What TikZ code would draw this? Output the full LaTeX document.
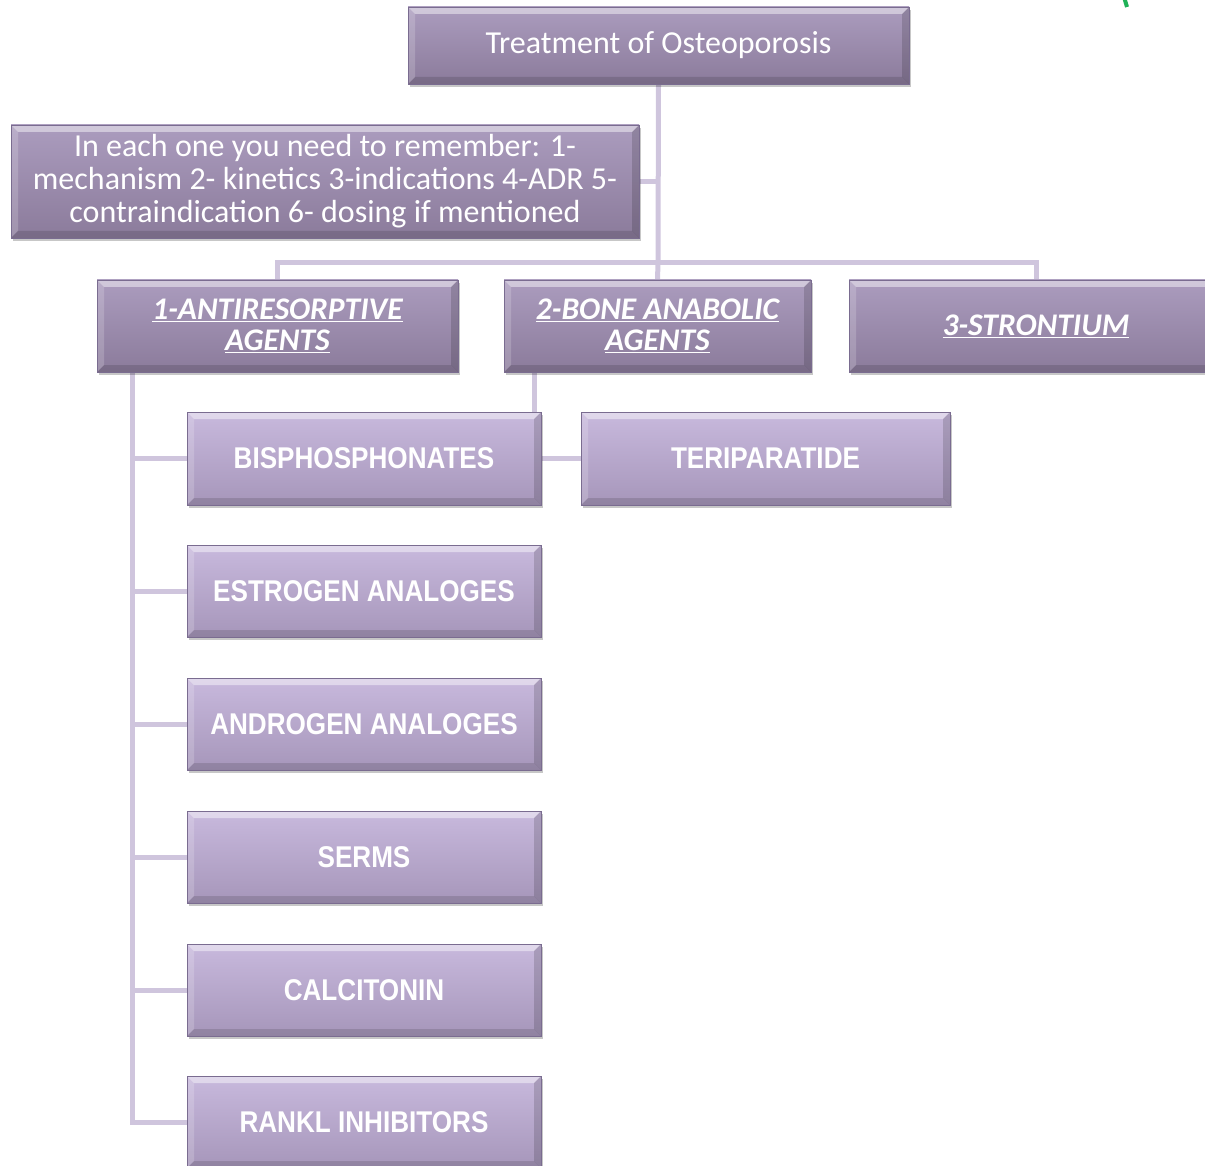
\documentclass[tikz,border=0pt]{standalone}
\usepackage{fontspec}
\setmainfont{Carlito}
\newfontfamily\narrowbold[FakeStretch=0.87]{Liberation Sans}
\usetikzlibrary{shadows}
\definecolor{topA}{HTML}{AB9CBE}
\definecolor{topB}{HTML}{8B7B9B}
\definecolor{lowA}{HTML}{C8B9DD}
\definecolor{lowB}{HTML}{A696BA}
\definecolor{edgec}{HTML}{7A6C90}
\definecolor{connc}{HTML}{CFC5DD}
\definecolor{markgreen}{HTML}{1FB257}
\pgfdeclarelayer{background}
\pgfsetlayers{background,main}
\tikzset{
  bevel/.style={path picture={
    \fill[white,opacity=0.45] (path picture bounding box.north west) -- (path picture bounding box.north east)
      -- ([shift={(-7pt,-7pt)}]path picture bounding box.north east) -- ([shift={(7pt,-7pt)}]path picture bounding box.north west) -- cycle;
    \fill[white,opacity=0.18] (path picture bounding box.north west) -- ([shift={(7pt,-7pt)}]path picture bounding box.north west)
      -- ([shift={(7pt,7pt)}]path picture bounding box.south west) -- (path picture bounding box.south west) -- cycle;
    \fill[black,opacity=0.15] (path picture bounding box.north east) -- ([shift={(-7pt,-7pt)}]path picture bounding box.north east)
      -- ([shift={(-7pt,7pt)}]path picture bounding box.south east) -- (path picture bounding box.south east) -- cycle;
    \fill[black,opacity=0.13] (path picture bounding box.south west) -- ([shift={(7pt,7pt)}]path picture bounding box.south west)
      -- ([shift={(-7pt,7pt)}]path picture bounding box.south east) -- (path picture bounding box.south east) -- cycle;
  }},
  box/.style={draw=edgec, line width=0.8pt, inner sep=0pt, text=white, align=center,
    drop shadow={shadow xshift=2pt, shadow yshift=-3pt, opacity=0.22, fill=black}, bevel},
  darkbox/.style={box, top color=topA, bottom color=topB, font=\fontsize{32}{33}\selectfont},
  headbox/.style={box, top color=topA, bottom color=topB, font=\bfseries\itshape\fontsize{31.5}{31}\selectfont},
  lightbox/.style={box, top color=lowA, bottom color=lowB, font=\narrowbold\bfseries\fontsize{30}{34}\selectfont},
  connline/.style={draw=connc, line width=5pt}
}
\begin{document}
\begin{tikzpicture}[x=1pt,y=-1pt]
\useasboundingbox (0,0) rectangle (1205,1166);
% nodes
\node[darkbox, minimum width=501pt, minimum height=77pt] (top) at (658.5,45.5) {Treatment of Osteoporosis};
\node[darkbox, minimum width=628pt, minimum height=113pt] (remember) at (325,181.5)
  {In each one you need to remember: 1-\\mechanism 2- kinetics 3-indications 4-ADR 5-\\contraindication 6- dosing if mentioned};
\node[headbox, minimum width=361pt, minimum height=92pt] (anti) at (277.5,326) {\underline{1-ANTIRESORPTIVE}\\\underline{AGENTS}};
\node[headbox, minimum width=307pt, minimum height=92pt] (bone) at (657.5,326) {\underline{2-BONE ANABOLIC}\\\underline{AGENTS}};
\node[headbox, minimum width=374pt, minimum height=92pt] (stron) at (1036,326) {\underline{3-STRONTIUM}};
\node[lightbox, minimum width=354pt, minimum height=93pt] (bisp) at (364,458.5) {BISPHOSPHONATES};
\node[lightbox, minimum width=369pt, minimum height=93pt] (teri) at (765.5,458.5) {TERIPARATIDE};
\node[lightbox, minimum width=354pt, minimum height=92pt] (estr) at (364,591) {ESTROGEN ANALOGES};
\node[lightbox, minimum width=354pt, minimum height=92pt] (andr) at (364,724) {ANDROGEN ANALOGES};
\node[lightbox, minimum width=354pt, minimum height=92pt] (serm) at (364,857) {SERMS};
\node[lightbox, minimum width=354pt, minimum height=92pt] (calc) at (364,990) {CALCITONIN};
\node[lightbox, minimum width=354pt, minimum height=92pt] (rank) at (364,1122) {RANKL INHIBITORS};
\coordinate (j) at (658,263);
\coordinate (av) at ([xshift=36pt]anti.south west);
\coordinate (bv) at ([xshift=31pt]bone.south west);
\coordinate (g1) at (1127,7);
\coordinate (g2) at (1124,-3);
% connectors
\begin{pgfonlayer}{background}
\draw[connline] (top.south) -- (j);
\draw[connline] (remember.east) -- (remember.east -| j);
\draw[connline] (anti.north) -- (anti.north |- j) -- (stron.north |- j) -- (stron.north);
\draw[connline] (j) -- (bone.north);
\draw[connline] (av) |- (bisp.west);
\draw[connline] (av) |- (estr.west);
\draw[connline] (av) |- (andr.west);
\draw[connline] (av) |- (serm.west);
\draw[connline] (av) |- (calc.west);
\draw[connline] (av) |- (rank.west);
\draw[connline] (bv) |- (teri.west);
\end{pgfonlayer}
\draw[markgreen, line width=4pt] (g1) -- (g2);
\end{tikzpicture}
\end{document}
